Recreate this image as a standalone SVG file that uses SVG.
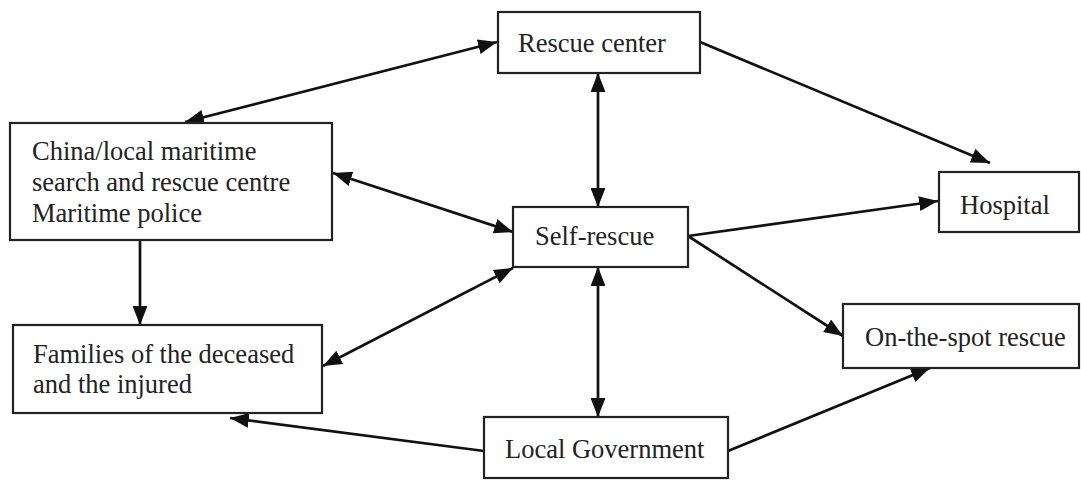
<svg xmlns="http://www.w3.org/2000/svg" width="1081" height="480" viewBox="0 0 1081 480">
<style>
.box{fill:#fff;stroke:#222;stroke-width:2.2}
.t{font-family:"Liberation Serif","Times New Roman",serif;font-size:26.5px;fill:#222}
.c{fill:none;stroke:#111;stroke-width:2.7}
</style>
<defs>
<marker id="ah" viewBox="0 0 10 10" refX="10" refY="5" markerWidth="7" markerHeight="5.5" markerUnits="strokeWidth" orient="auto-start-reverse" preserveAspectRatio="none">
<path d="M0,0 L10,5 L0,10 z" fill="#111"/>
</marker>
</defs>
<rect width="1081" height="480" fill="#fff"/>
<g id="connectors">
<line class="c" x1="497" y1="42" x2="185" y2="122" marker-start="url(#ah)" marker-end="url(#ah)"/>
<line class="c" x1="700" y1="42" x2="990" y2="163" marker-end="url(#ah)"/>
<line class="c" x1="598" y1="73" x2="598" y2="207" marker-start="url(#ah)" marker-end="url(#ah)"/>
<line class="c" x1="333" y1="173" x2="513" y2="232" marker-start="url(#ah)" marker-end="url(#ah)"/>
<line class="c" x1="140" y1="240" x2="140" y2="325" marker-end="url(#ah)"/>
<line class="c" x1="688" y1="236" x2="938" y2="201" marker-end="url(#ah)"/>
<line class="c" x1="688" y1="236" x2="843" y2="336" marker-end="url(#ah)"/>
<line class="c" x1="513" y1="268" x2="323" y2="366" marker-start="url(#ah)" marker-end="url(#ah)"/>
<line class="c" x1="598" y1="267" x2="598" y2="417" marker-start="url(#ah)" marker-end="url(#ah)"/>
<line class="c" x1="484" y1="451" x2="230" y2="418" marker-end="url(#ah)"/>
<line class="c" x1="728" y1="451" x2="930" y2="368" marker-end="url(#ah)"/>
</g>
<g id="rescue-center">
<rect class="box" x="498" y="12" width="202" height="61"/>
<text class="t" x="518" y="52">Rescue center</text>
</g>
<g id="china-maritime">
<rect class="box" x="10" y="123" width="322" height="117"/>
<text class="t" x="32" y="160">China/local maritime</text>
<text class="t" x="32" y="191">search and rescue centre</text>
<text class="t" x="32" y="222">Maritime police</text>
</g>
<g id="self-rescue">
<rect class="box" x="513" y="207" width="175" height="60"/>
<text class="t" x="535" y="245">Self-rescue</text>
</g>
<g id="hospital">
<rect class="box" x="939" y="172" width="140" height="60"/>
<text class="t" x="960" y="214">Hospital</text>
</g>
<g id="on-the-spot">
<rect class="box" x="843" y="304" width="236" height="64"/>
<text class="t" x="865" y="346">On-the-spot rescue</text>
</g>
<g id="families">
<rect class="box" x="13" y="325" width="309" height="88"/>
<text class="t" x="33" y="363">Families of the deceased</text>
<text class="t" x="33" y="393">and the injured</text>
</g>
<g id="local-government">
<rect class="box" x="484" y="417" width="244" height="61"/>
<text class="t" x="505" y="458">Local Government</text>
</g>
</svg>
